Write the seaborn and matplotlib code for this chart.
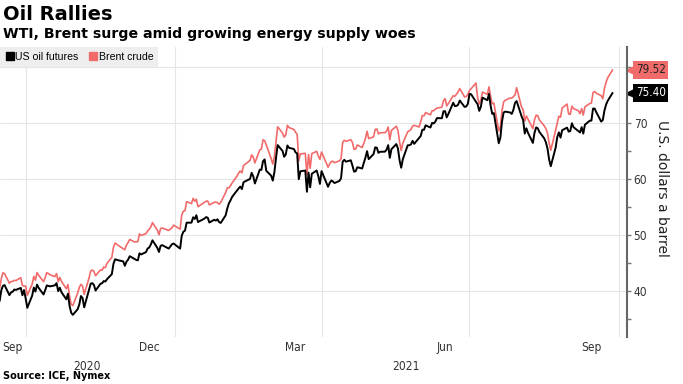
import matplotlib
matplotlib.use("Agg")

import numpy as np
import pandas as pd
import matplotlib.pyplot as plt
import matplotlib.transforms as mtrans
from matplotlib.lines import Line2D
import seaborn as sns

# ==============================
# DATA (daily settles)
# ==============================
nan = np.nan

dates = [
    # Sep 2020
    "2020-09-15", "2020-09-16", "2020-09-17", "2020-09-18", "2020-09-21", "2020-09-22", "2020-09-23", "2020-09-24",
    "2020-09-25", "2020-09-28", "2020-09-29", "2020-09-30",
    # Oct 2020
    "2020-10-01", "2020-10-02", "2020-10-05", "2020-10-06", "2020-10-07", "2020-10-08", "2020-10-09", "2020-10-12",
    "2020-10-13", "2020-10-14", "2020-10-15", "2020-10-16", "2020-10-19", "2020-10-20", "2020-10-21", "2020-10-22",
    "2020-10-23", "2020-10-26", "2020-10-27", "2020-10-28", "2020-10-29", "2020-10-30",
    # Nov 2020
    "2020-11-02", "2020-11-03", "2020-11-04", "2020-11-05", "2020-11-06", "2020-11-09", "2020-11-10", "2020-11-11",
    "2020-11-12", "2020-11-13", "2020-11-16", "2020-11-17", "2020-11-18", "2020-11-19", "2020-11-20", "2020-11-23",
    "2020-11-24", "2020-11-25", "2020-11-27", "2020-11-30",
    # Dec 2020
    "2020-12-01", "2020-12-02", "2020-12-03", "2020-12-04", "2020-12-07", "2020-12-08", "2020-12-09", "2020-12-10",
    "2020-12-11", "2020-12-14", "2020-12-15", "2020-12-16", "2020-12-17", "2020-12-18", "2020-12-21", "2020-12-22",
    "2020-12-23", "2020-12-24", "2020-12-28", "2020-12-29", "2020-12-30", "2020-12-31",
    # Jan 2021
    "2021-01-04", "2021-01-05", "2021-01-06", "2021-01-07", "2021-01-08", "2021-01-11", "2021-01-12", "2021-01-13",
    "2021-01-14", "2021-01-15", "2021-01-19", "2021-01-20", "2021-01-21", "2021-01-22", "2021-01-25", "2021-01-26",
    "2021-01-27", "2021-01-28", "2021-01-29",
    # Feb 2021
    "2021-02-01", "2021-02-02", "2021-02-03", "2021-02-04", "2021-02-05", "2021-02-08", "2021-02-09", "2021-02-10",
    "2021-02-11", "2021-02-12", "2021-02-16", "2021-02-17", "2021-02-18", "2021-02-19", "2021-02-22", "2021-02-23",
    "2021-02-24", "2021-02-25", "2021-02-26",
    # Mar 2021
    "2021-03-01", "2021-03-02", "2021-03-03", "2021-03-04", "2021-03-05", "2021-03-08", "2021-03-09", "2021-03-10",
    "2021-03-11", "2021-03-12", "2021-03-15", "2021-03-16", "2021-03-17", "2021-03-18", "2021-03-19", "2021-03-22",
    "2021-03-23", "2021-03-24", "2021-03-25", "2021-03-26", "2021-03-29", "2021-03-30", "2021-03-31",
    # Apr 2021
    "2021-04-01", "2021-04-05", "2021-04-06", "2021-04-07", "2021-04-08", "2021-04-09", "2021-04-12", "2021-04-13",
    "2021-04-14", "2021-04-15", "2021-04-16", "2021-04-19", "2021-04-20", "2021-04-21", "2021-04-22", "2021-04-23",
    "2021-04-26", "2021-04-27", "2021-04-28", "2021-04-29", "2021-04-30",
    # May 2021
    "2021-05-03", "2021-05-04", "2021-05-05", "2021-05-06", "2021-05-07", "2021-05-10", "2021-05-11", "2021-05-12",
    "2021-05-13", "2021-05-14", "2021-05-17", "2021-05-18", "2021-05-19", "2021-05-20", "2021-05-21", "2021-05-24",
    "2021-05-25", "2021-05-26", "2021-05-27", "2021-05-28", "2021-05-31",
    # Jun 2021
    "2021-06-01", "2021-06-02", "2021-06-03", "2021-06-04", "2021-06-07", "2021-06-08", "2021-06-09", "2021-06-10",
    "2021-06-11", "2021-06-14", "2021-06-15", "2021-06-16", "2021-06-17", "2021-06-18", "2021-06-21", "2021-06-22",
    "2021-06-23", "2021-06-24", "2021-06-25", "2021-06-28", "2021-06-29", "2021-06-30",
    # Jul 2021
    "2021-07-01", "2021-07-02", "2021-07-05", "2021-07-06", "2021-07-07", "2021-07-08", "2021-07-09", "2021-07-12",
    "2021-07-13", "2021-07-14", "2021-07-15", "2021-07-16", "2021-07-19", "2021-07-20", "2021-07-21", "2021-07-22",
    "2021-07-23", "2021-07-26", "2021-07-27", "2021-07-28", "2021-07-29", "2021-07-30",
    # Aug 2021
    "2021-08-02", "2021-08-03", "2021-08-04", "2021-08-05", "2021-08-06", "2021-08-09", "2021-08-10", "2021-08-11",
    "2021-08-12", "2021-08-13", "2021-08-16", "2021-08-17", "2021-08-18", "2021-08-19", "2021-08-20", "2021-08-23",
    "2021-08-24", "2021-08-25", "2021-08-26", "2021-08-27", "2021-08-30", "2021-08-31",
    # Sep 2021
    "2021-09-01", "2021-09-02", "2021-09-03", "2021-09-06", "2021-09-07", "2021-09-08", "2021-09-09", "2021-09-10",
    "2021-09-13", "2021-09-14", "2021-09-15", "2021-09-16", "2021-09-17", "2021-09-20", "2021-09-21", "2021-09-22",
    "2021-09-23", "2021-09-24", "2021-09-27",
]

us_oil = [
    38.28, 40.16, 40.97, 41.11, 39.31, 39.80, 39.93, 40.31, 40.25, 40.60, 39.29, 40.22,
    38.72, 37.05, 39.22, 40.67, 39.95, 41.19, 40.60, 39.43, 40.20, 41.04, 40.96, 40.88, 41.06, 41.46, 40.03, 40.64,
    39.85, 38.56, 39.57, 37.39, 36.17, 35.79,
    36.81, 37.66, 39.15, 38.79, 37.14, 40.29, 41.36, 41.45, 41.12, 40.13, 41.34, 41.43, 41.82, 41.74, 42.15, 43.06,
    44.91, 45.71, 45.53, 45.34,
    44.55, 45.28, 45.64, 46.26, 45.76, 45.60, 45.52, 46.78, 46.57, 46.99, 47.62, 47.82, 48.36, 49.10, 47.74, 47.02,
    48.12, 48.23, 47.62, 48.00, 48.40, 48.52,
    47.62, 49.93, 50.63, 50.83, 52.24, 52.25, 53.21, 52.91, 53.57, 52.36, 52.98, 53.24, 53.13, 52.27, 52.77, 52.61,
    52.85, 52.34, 52.20,
    53.55, 54.76, 55.69, 56.23, 56.85, 57.97, 58.36, 58.68, 58.24, 59.47, 60.05, 61.14, 60.52, 59.24, 61.70, 61.67,
    63.22, 63.53, 61.50,
    60.64, 59.75, 61.28, 63.83, 66.09, 65.05, 64.01, 64.44, 66.02, 65.61, 65.39, 64.80, 64.60, 60.00, 61.42, 61.55,
    57.76, 61.18, 58.56, 60.97, 61.56, 60.55, 59.16,
    61.45, 58.65, 59.33, 59.77, 59.60, 59.32, 59.70, 60.18, 63.15, 63.46, 63.13, 63.38, 62.44, 61.35, 61.43, 62.14,
    61.91, 62.94, 63.86, 65.01, 63.58,
    64.49, 65.69, 65.63, 64.71, 64.90, 64.92, 65.28, 66.08, 63.82, 65.37, 66.27, 65.49, 63.36, 62.05, 63.58, 66.05,
    66.07, 66.21, 66.85, 66.32, nan,
    67.72, 68.83, 68.81, 69.62, 69.23, 70.05, 69.96, 70.29, 70.91, 70.88, 72.12, 72.15, 71.04, 71.64, 73.66, 73.06,
    73.08, 73.30, 74.05, 72.91, 72.98, 73.47,
    75.23, 75.16, nan, 73.37, 72.20, 72.94, 74.56, 74.10, 75.25, 73.13, 71.65, 71.81, 66.42, 67.42, 70.30, 71.91,
    72.07, 71.91, 71.65, 72.39, 73.62, 73.95,
    71.26, 70.56, 68.15, 69.09, 68.28, 66.48, 68.29, 69.25, 69.09, 68.44, 67.29, 66.59, 65.46, 63.50, 62.32, 65.64,
    67.54, 68.36, 67.42, 68.74, 69.21, 68.50,
    68.59, 69.99, 69.29, nan, 68.35, 69.30, 68.14, 69.72, 70.45, 70.46, 72.61, 72.61, 71.97, 70.29, 70.56, 72.23,
    73.30, 73.98, 75.40,
]

brent = [
    40.53, 42.22, 43.30, 43.15, 41.44, 41.72, 41.77, 41.94, 41.92, 42.43, 41.03, 40.95,
    40.93, 39.27, 41.29, 42.65, 41.99, 43.34, 42.85, 41.72, 42.45, 43.32, 43.16, 42.93, 42.62, 43.16, 41.73, 42.46,
    41.77, 40.46, 41.20, 39.12, 37.65, 37.46,
    39.71, 40.71, 41.23, 40.93, 39.45, 42.40, 43.61, 43.80, 43.53, 42.78, 43.82, 43.75, 44.34, 44.20, 44.96, 46.06,
    47.86, 48.61, 48.18, 47.59,
    47.42, 48.25, 48.71, 49.25, 48.79, 48.84, 48.86, 50.25, 49.97, 50.29, 50.76, 51.08, 51.50, 52.26, 50.91, 50.08,
    51.20, 51.29, 50.86, 51.09, 51.34, 51.80,
    51.09, 53.60, 54.30, 54.38, 55.99, 55.66, 56.58, 56.06, 56.42, 55.10, 55.90, 56.08, 56.10, 55.41, 55.88, 55.91,
    55.81, 55.53, 55.88,
    57.61, 58.46, 58.46, 58.84, 59.34, 60.56, 61.09, 61.47, 61.14, 62.43, 63.35, 64.34, 63.93, 62.91, 65.24, 65.37,
    67.04, 66.88, 66.13,
    63.69, 62.70, 64.07, 66.74, 69.36, 68.24, 67.52, 67.90, 69.63, 69.22, 68.88, 68.39, 68.00, 63.28, 64.53, 64.62,
    60.79, 64.41, 61.95, 64.57, 64.98, 64.14, 63.54,
    64.86, 62.15, 62.74, 63.16, 63.20, 62.95, 63.28, 63.67, 66.58, 66.94, 66.77, 67.05, 66.57, 65.32, 65.40, 66.11,
    65.65, 66.42, 67.27, 68.56, 67.25,
    67.56, 68.88, 68.96, 68.09, 68.28, 68.32, 68.55, 69.32, 67.05, 68.71, 69.46, 68.71, 66.66, 65.11, 66.44, 68.46,
    68.65, 68.87, 69.46, 69.63, 69.32,
    70.25, 71.35, 71.31, 71.89, 71.49, 72.22, 72.22, 72.52, 72.69, 72.86, 73.99, 74.39, 73.08, 73.51, 74.90, 74.81,
    75.19, 75.56, 76.18, 74.68, 74.76, 75.13,
    75.84, 76.17, 77.16, 74.53, 73.43, 74.12, 75.55, 75.16, 76.49, 74.76, 73.47, 73.59, 68.62, 69.35, 72.23, 73.79,
    74.10, 74.50, 74.48, 74.74, 75.05, 76.33,
    72.89, 72.41, 70.38, 71.29, 70.70, 69.04, 70.63, 71.44, 71.31, 70.59, 69.51, 69.03, 68.23, 66.45, 65.18, 68.75,
    70.05, 71.25, 71.07, 72.70, 73.41, 71.63,
    71.59, 73.03, 72.61, 72.22, 71.69, 72.60, 71.45, 72.92, 73.51, 73.60, 75.46, 75.67, 75.34, 74.92, 74.36, 76.19,
    77.25, 78.09, 79.52,
]

assert len(dates) == len(us_oil) == len(brent)

series_names = ["US oil futures", "Brent crude"]
last_labels = ["75.40", "79.52"]

# axis labelling (gridlines at quarter starts, labels mid-month)
grid_dates = ["2020-10-01", "2021-01-01", "2021-04-01", "2021-07-01", "2021-10-01"]
month_labels = ["Sep", "Dec", "Mar", "Jun", "Sep"]
month_pos = ["2020-09-23", "2020-12-16", "2021-03-16", "2021-06-16", "2021-09-14"]
year_labels = ["2020", "2021"]
year_pos = ["2020-11-08", "2021-05-23"]

# ==============================
# STYLE
# ==============================
RED = "#f26b6b"
BLACK = "#000000"
COND = dict(family="DejaVu Sans", fontstretch="condensed")

sns.set_style("white")
plt.rcParams["font.family"] = ["DejaVu Sans"]
plt.rcParams["text.color"] = "black"

df = pd.DataFrame({"date": pd.to_datetime(dates), series_names[0]: us_oil, series_names[1]: brent})
long_df = df.melt(id_vars="date", var_name="series", value_name="price").dropna()

fig = plt.figure(figsize=(6.83, 3.84), dpi=100)
ax = fig.add_axes([0.0, 47 / 384, 626.7 / 683, 290 / 384])

sns.lineplot(data=long_df[long_df.series == series_names[1]], x="date", y="price",
             color=RED, linewidth=1.2, ax=ax, legend=False)
sns.lineplot(data=long_df[long_df.series == series_names[0]], x="date", y="price",
             color=BLACK, linewidth=1.4, ax=ax, legend=False)

ax.set_xlim(pd.Timestamp("2020-09-15 05:00"), pd.Timestamp("2021-10-05 17:00"))
ax.set_ylim(31.84, 83.6)
ax.set_xlabel("")
ax.set_ylabel("")

# grid
ax.set_xticks(pd.to_datetime(grid_dates))
ax.set_xticklabels([])
ax.tick_params(axis="x", length=0)
ax.set_yticks([40, 50, 60, 70, 80])
ax.set_yticklabels(["40", "50", "60", "70", ""])
ax.set_yticks([35, 45, 55, 65, 75], minor=True)
ax.grid(True, color="#e6e6e6", linewidth=0.8)
ax.set_axisbelow(True)

ax.yaxis.tick_right()
ax.tick_params(axis="y", which="major", direction="out", length=3, width=1, color="#777",
               labelsize=8.6, labelcolor="#333", pad=2)
ax.tick_params(axis="y", which="minor", direction="out", length=3, width=1, color="#777")
for lab in ax.get_yticklabels():
    lab.set_fontstretch("condensed")

for side in ["left", "top", "bottom"]:
    ax.spines[side].set_visible(False)
ax.spines["right"].set_color("#666")
ax.spines["right"].set_linewidth(1.5)

# month / year labels under the plot
trans = mtrans.blended_transform_factory(ax.transData, ax.transAxes)
for lab, pos in zip(month_labels, month_pos):
    ax.text(pd.Timestamp(pos), -0.035, lab, transform=trans, ha="center", va="center",
            fontsize=8.6, color="#333", **COND)
for lab, pos in zip(year_labels, year_pos):
    ax.text(pd.Timestamp(pos), -0.1, lab, transform=trans, ha="center", va="center",
            fontsize=8.6, color="#333", **COND)

# last value tags
ytrans = ax.get_yaxis_transform()
tag_vals = [us_oil[-1], brent[-1]]
tag_fill = [BLACK, RED]
tag_text = ["white", "#222"]
for lab, val, fc, tc in zip(last_labels, tag_vals, tag_fill, tag_text):
    ax.plot([1.0075], [val], marker="<", markersize=6.5, color=fc, transform=ytrans, clip_on=False)
    ax.text(1.0145, val, lab, transform=ytrans, ha="left", va="center", fontsize=8.4,
            color=tc, bbox=dict(boxstyle="square,pad=0.2", fc=fc, ec="none"), **COND)

# legend
handles = [Line2D([], [], marker="s", linestyle="none", markersize=5.5, color=c) for c in [BLACK, RED]]
leg = ax.legend(handles, series_names, loc="upper left", bbox_to_anchor=(0, 1.0), ncol=2,
                frameon=True, fancybox=False, borderaxespad=0, handletextpad=0.1,
                columnspacing=0.9, handlelength=0.9, borderpad=0.45,
                prop={"family": "Liberation Sans", "size": 7.6})
leg.get_frame().set_facecolor("#eeeeee")
leg.get_frame().set_edgecolor("none")
leg.get_frame().set_alpha(1)

# titles and notes
fig.text(3 / 683, 1 - 14 / 384, "Oil Rallies", fontsize=14, fontweight="bold", va="center", ha="left")
fig.text(3 / 683, 1 - 34 / 384, "WTI, Brent surge amid growing energy supply woes", fontsize=10.2,
         fontweight="bold", va="center", ha="left")
fig.text(3 / 683, 1 - 376 / 384, "Source: ICE, Nymex", fontsize=7, fontweight="bold", va="center", ha="left")
fig.text(662 / 683, 1 - 188 / 384, "U.S. dollars a barrel", rotation=270, fontsize=10, va="center",
         ha="center", color="#222")

fig.savefig("out.png", dpi=100)
plt.close(fig)
